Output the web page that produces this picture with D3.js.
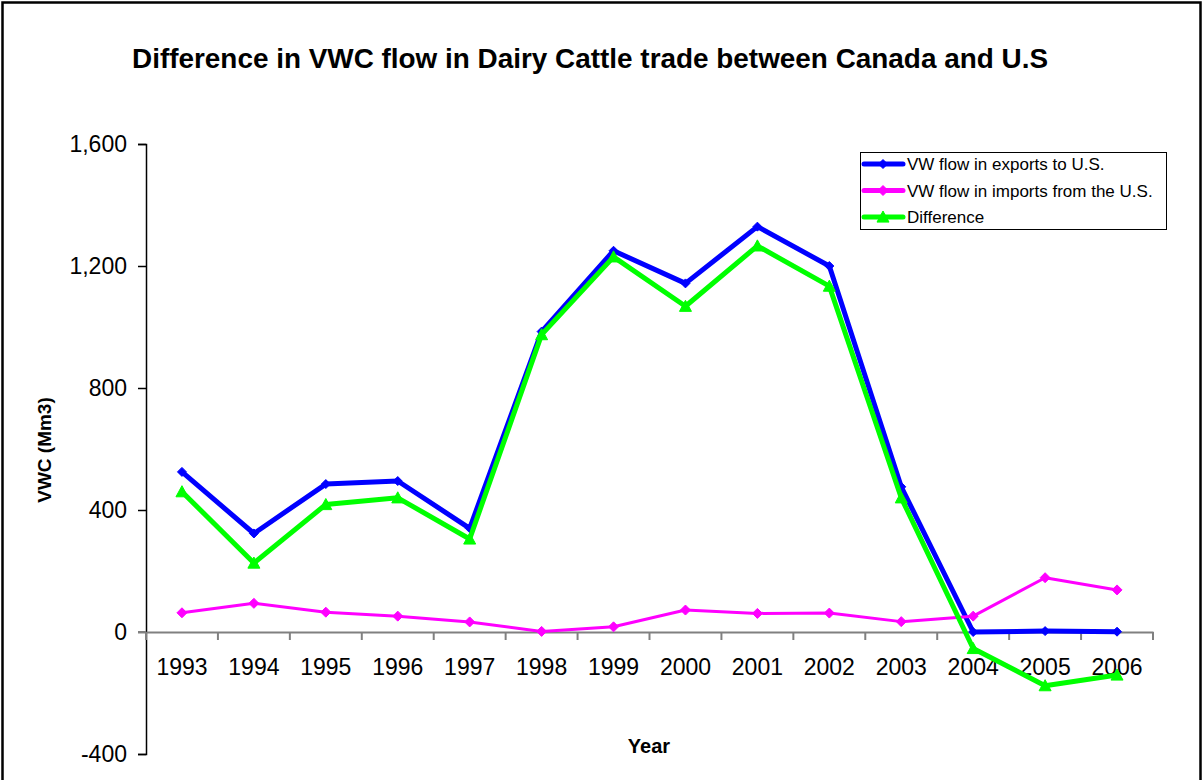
<!DOCTYPE html>
<html>
<head>
<meta charset="utf-8">
<script src="https://cdn.jsdelivr.net/npm/d3@7"></script>
<style>
  html, body { margin: 0; padding: 0; background: #fff; }
  svg { display: block; font-family: Arial, "Liberation Sans", sans-serif; }
</style>
</head>
<body>
<svg id="chart" width="1204" height="780"></svg>
<script>
// Years on the category axis
const years = ["1993","1994","1995","1996","1997","1998","1999","2000","2001","2002","2003","2004","2005","2006"];
// Virtual water flow in dairy cattle exports from Canada to the U.S. (Mm3)
const exportsToUS = [525, 323, 485, 495, 340, 985, 1250, 1143, 1329, 1200, 476, 0, 3, 1];
// Virtual water flow in dairy cattle imports from the U.S. (Mm3)
const importsFromUS = [63, 94, 65, 52, 33, 2, 17, 72, 61, 62, 34, 52, 178, 138];
// Net difference (exports minus imports)
const difference = [460, 226, 418, 440, 305, 975, 1230, 1068, 1266, 1134, 440, -54, -176, -141];
// Value axis ticks
const yTicks = [-400, 0, 400, 800, 1200, 1600];

const seriesNames = ["VW flow in exports to U.S.", "VW flow in imports from the U.S.", "Difference"];

const svg = d3.select("#chart");

// outer chart frame
svg.append("rect")
  .attr("x", 2.5).attr("y", 2.5)
  .attr("width", 1198).attr("height", 900)
  .attr("fill", "none").attr("stroke", "#000").attr("stroke-width", 2.5);

const plot = { left: 146, right: 1153, top: 144, bottom: 754 };

const x = d3.scaleBand().domain(years).range([plot.left, plot.right]).padding(0);
const y = d3.scaleLinear().domain([-400, 1600]).range([plot.bottom, plot.top]);
const cx = d => x(d) + x.bandwidth() / 2;

// title
svg.append("text")
  .attr("x", 590).attr("y", 68)
  .attr("text-anchor", "middle")
  .attr("font-size", 27).attr("font-weight", "bold")
  .attr("textLength", 916).attr("lengthAdjust", "spacingAndGlyphs")
  .text("Difference in VWC flow in Dairy Cattle trade between Canada and U.S");

// value axis
const fmt = d => d3.format(",")(d).replace("\u2212", "-");
const yAxis = svg.append("g")
  .attr("transform", `translate(${plot.left},0)`)
  .call(d3.axisLeft(y).tickValues(yTicks).tickFormat(fmt).tickSize(8).tickPadding(11));
yAxis.select(".domain").attr("stroke", "#000").attr("stroke-width", 1.5);
yAxis.selectAll(".tick line").attr("stroke", "#000").attr("stroke-width", 1.5);
yAxis.selectAll("text").attr("font-size", 23).attr("fill", "#000")
  .attr("font-family", "Arial, 'Liberation Sans', sans-serif");

// category axis at zero
const xAxis = svg.append("g")
  .attr("transform", `translate(0,${y(0)})`)
  .call(d3.axisBottom(x).tickSize(0).tickSizeOuter(0));
xAxis.select(".domain").attr("stroke", "#808080").attr("stroke-width", 2);
xAxis.selectAll("text")
  .attr("font-size", 23).attr("fill", "#000")
  .attr("font-family", "Arial, 'Liberation Sans', sans-serif")
  .attr("y", 43).attr("dy", null);

// tick marks between categories
const boundaries = years.map(d => x(d) + x.bandwidth()).concat([plot.left]);
xAxis.selectAll("line.cat-tick")
  .data(boundaries)
  .join("line")
  .attr("class", "cat-tick")
  .attr("x1", d => d).attr("x2", d => d)
  .attr("y1", 0).attr("y2", 8)
  .attr("stroke", "#808080").attr("stroke-width", 2);
// tick at zero extends left of the value axis
svg.append("line")
  .attr("x1", plot.left - 8).attr("x2", plot.left)
  .attr("y1", y(0)).attr("y2", y(0))
  .attr("stroke", "#808080").attr("stroke-width", 2);

// axis titles
svg.append("text")
  .attr("transform", `translate(51,450) rotate(-90)`)
  .attr("text-anchor", "middle")
  .attr("font-size", 19).attr("font-weight", "bold")
  .text("VWC (Mm3)");
svg.append("text")
  .attr("x", 649).attr("y", 753)
  .attr("text-anchor", "middle")
  .attr("font-size", 20).attr("font-weight", "bold")
  .text("Year");

// series
const series = [
  { name: seriesNames[0], values: exportsToUS, color: "#0000FF", width: 5, marker: "diamond", size: 9 },
  { name: seriesNames[1], values: importsFromUS, color: "#FF00FF", width: 3, marker: "diamond", size: 10 },
  { name: seriesNames[2], values: difference, color: "#00FF00", width: 5, marker: "triangle", size: 12 }
];

function markerPath(type, s) {
  const h = s / 2;
  if (type === "diamond") return `M0,${-h}L${h},0L0,${h}L${-h},0Z`;
  return `M0,${-h}L${h},${h * 0.85}L${-h},${h * 0.85}Z`;
}

const line = d3.line().x(d => cx(d.year)).y(d => y(d.value));

series.forEach(s => {
  const pts = years.map((yr, i) => ({ year: yr, value: s.values[i] }));
  const g = svg.append("g");
  g.append("path")
    .datum(pts)
    .attr("d", line)
    .attr("fill", "none")
    .attr("stroke", s.color)
    .attr("stroke-width", s.width)
    .attr("stroke-linejoin", "round");
  g.selectAll("path.mk")
    .data(pts)
    .join("path")
    .attr("class", "mk")
    .attr("transform", d => `translate(${cx(d.year)},${y(d.value)})`)
    .attr("d", markerPath(s.marker, s.size))
    .attr("fill", s.color)
    .attr("stroke", s.color)
    .attr("stroke-width", 1);
});

// legend
const lg = svg.append("g");
lg.append("rect")
  .attr("x", 860.5).attr("y", 152.5)
  .attr("width", 306).attr("height", 77)
  .attr("fill", "#fff").attr("stroke", "#000").attr("stroke-width", 1);
series.forEach((s, i) => {
  const ry = 164 + i * 26.5;
  lg.append("line")
    .attr("x1", 864).attr("x2", 903)
    .attr("y1", ry).attr("y2", ry)
    .attr("stroke", s.color).attr("stroke-width", 5)
    .attr("stroke-linecap", "round");
  lg.append("path")
    .attr("transform", `translate(883,${ry})`)
    .attr("d", markerPath(s.marker, s.size))
    .attr("fill", s.color).attr("stroke", s.color);
  lg.append("text")
    .attr("x", 907).attr("y", ry + 6)
    .attr("font-size", 17)
    .text(s.name);
});
</script>
</body>
</html>
